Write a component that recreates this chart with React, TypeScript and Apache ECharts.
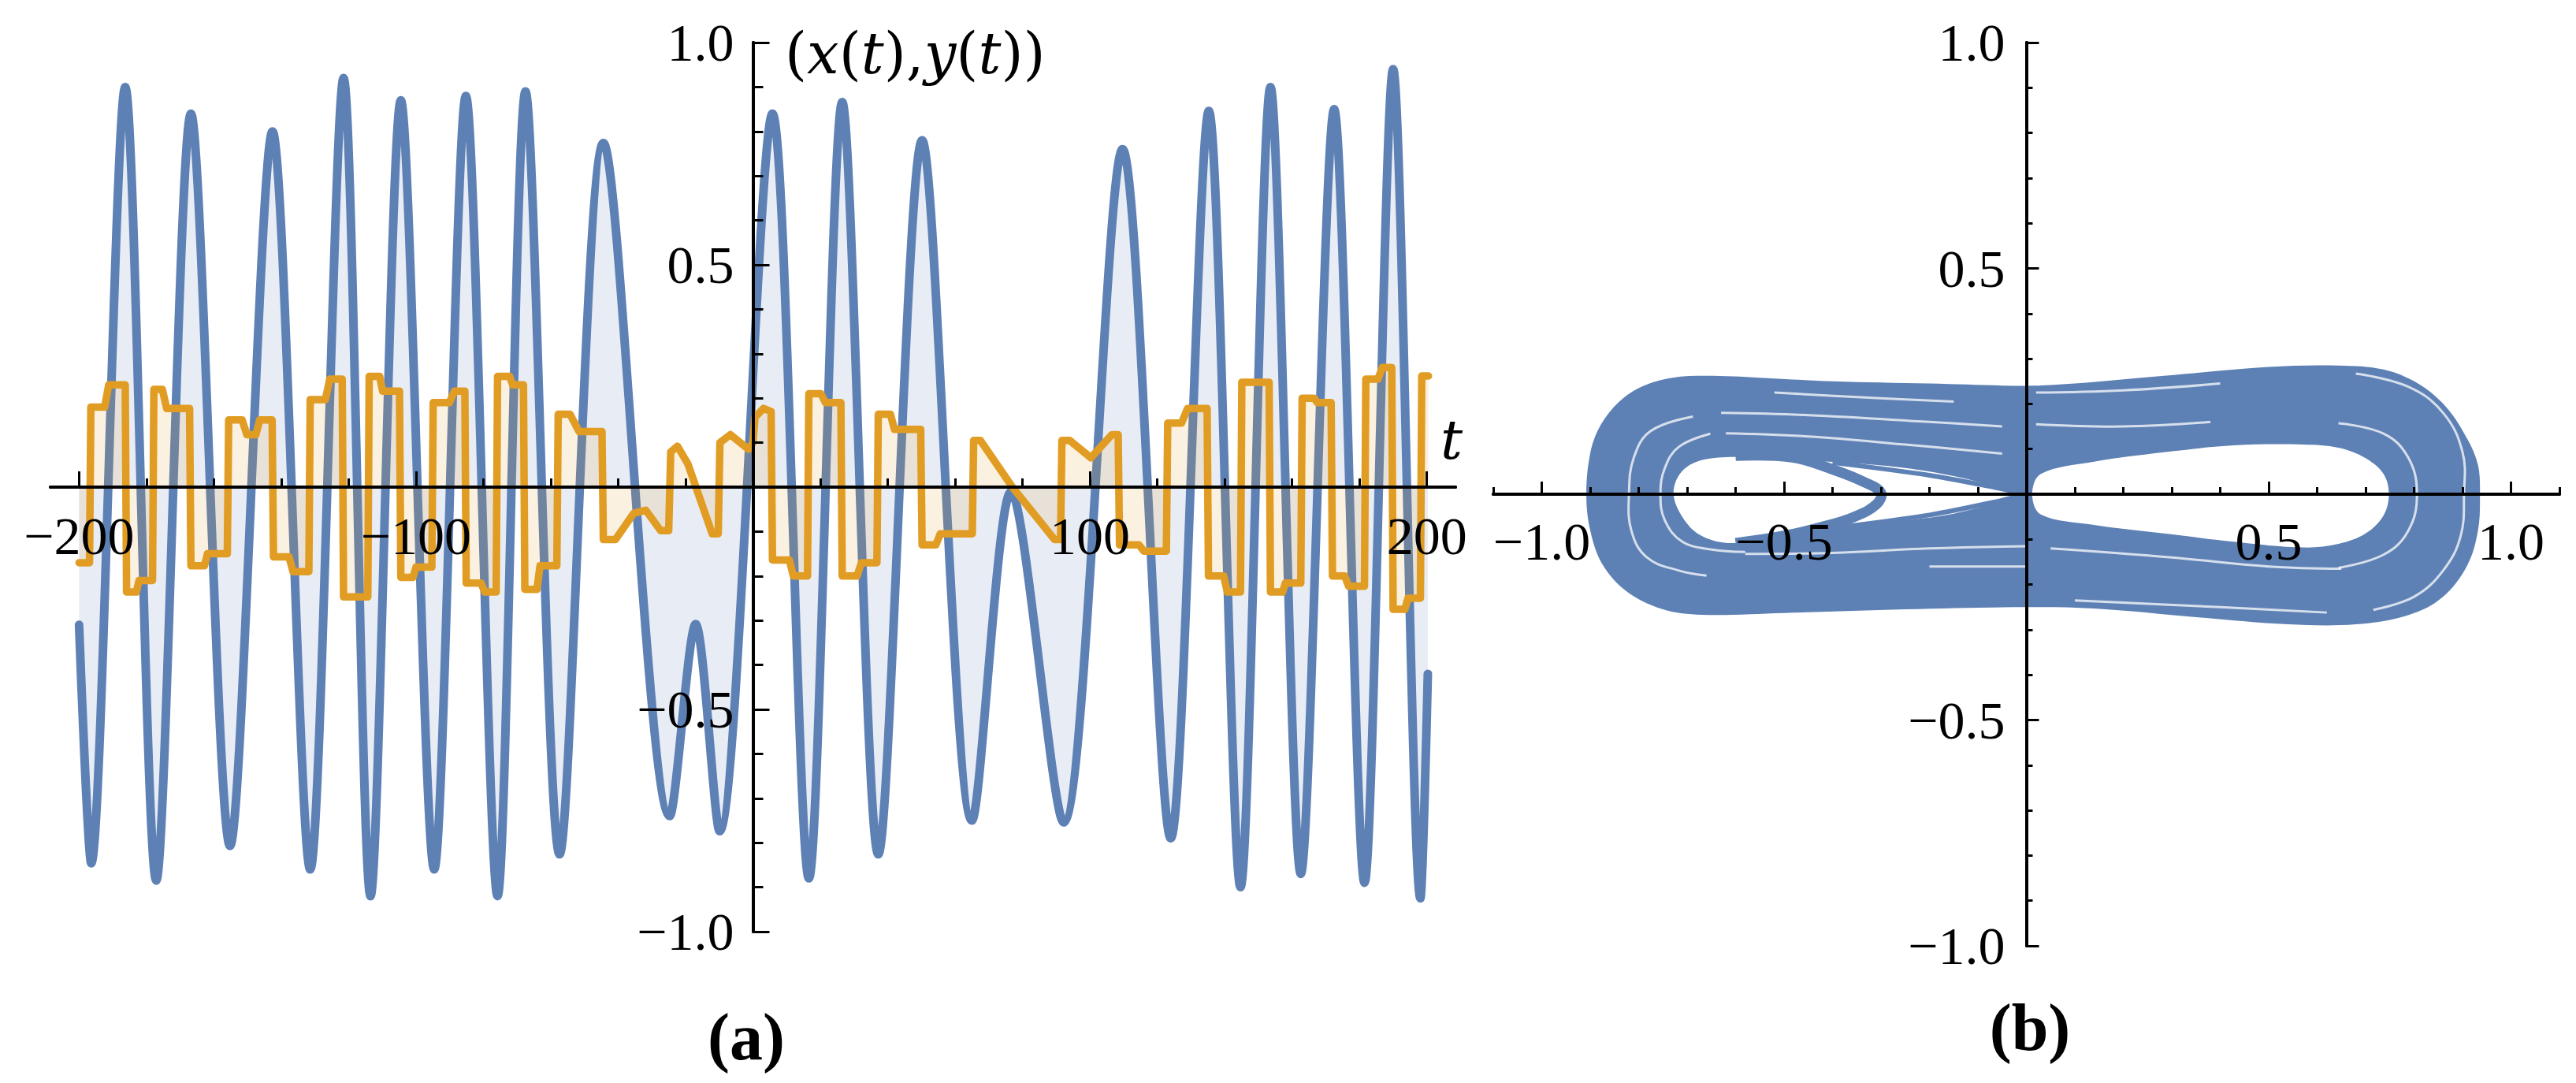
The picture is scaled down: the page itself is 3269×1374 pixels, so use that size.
import React, { useEffect, useRef } from 'react';
import * as echarts from 'echarts';

const BLUE = '#5E81B5';
const ORANGE = '#E19C24';

// ---------- panel (a): x(t) extrema ----------
const xCurve: [number, number][] = [
  [-200, -0.31], [-196.4, -0.846], [-186.3, 0.9], [-177.1, -0.885], [-166.8, 0.84],
  [-155.2, -0.807], [-142.6, 0.8], [-131.4, -0.86], [-121.5, 0.92], [-113.5, -0.92],
  [-104.5, 0.87], [-94.6, -0.86], [-85.2, 0.88], [-75.8, -0.92], [-67.5, 0.89],
  [-57.4, -0.826], [-44.4, 0.774], [-24.7, -0.74], [-17.0, -0.308], [-9.9, -0.774],
  [5.8, 0.84], [16.6, -0.88], [26.5, 0.866], [37.2, -0.826], [50.2, 0.78],
  [65.0, -0.75], [76.6, -0.01], [92.2, -0.754], [109.7, 0.76], [124.0, -0.79],
  [135.3, 0.846], [144.7, -0.9], [153.6, 0.9], [162.6, -0.87], [172.5, 0.85],
  [181.5, -0.89], [190.0, 0.94], [198.1, -0.925], [200.3, -0.42],
];

// ---------- panel (a): y(t) plateaus ----------
const yCurve: [number, number][] = [
  [-200, -0.17], [-196.9, -0.17],
  [-196.5, 0.18], [-192.4, 0.18], [-191.2, 0.23], [-186.3, 0.23],
  [-185.9, -0.236], [-183.0, -0.236], [-182.2, -0.21], [-178.2, -0.21],
  [-177.8, 0.22], [-175.3, 0.22], [-174.0, 0.177], [-167.2, 0.177],
  [-166.8, -0.177], [-162.8, -0.177], [-161.9, -0.15], [-156.0, -0.15],
  [-155.6, 0.151], [-151.6, 0.151], [-150.2, 0.118], [-147.5, 0.118], [-146.4, 0.151], [-142.7, 0.151],
  [-142.3, -0.157], [-137.7, -0.157], [-136.5, -0.19], [-131.8, -0.19],
  [-131.4, 0.197], [-126.9, 0.197], [-125.6, 0.243], [-121.9, 0.243],
  [-121.5, -0.247], [-114.3, -0.247],
  [-113.9, 0.249], [-110.8, 0.249], [-109.9, 0.216], [-104.9, 0.216],
  [-104.5, -0.203], [-100.9, -0.203], [-100.0, -0.18], [-95.3, -0.18],
  [-94.9, 0.19], [-90.1, 0.19], [-88.6, 0.216], [-85.5, 0.216],
  [-85.1, -0.216], [-80.7, -0.216], [-79.6, -0.236], [-76.2, -0.236],
  [-75.8, 0.249], [-72.2, 0.249], [-71.3, 0.23], [-68.1, 0.23],
  [-67.7, -0.23], [-64.1, -0.23], [-63.2, -0.177], [-58.2, -0.177],
  [-57.8, 0.164], [-54.3, 0.164], [-51.6, 0.125], [-44.8, 0.125],
  [-44.4, -0.118], [-40.8, -0.118], [-35.4, -0.059], [-31.8, -0.052], [-27.4, -0.098], [-25.0, -0.098],
  [-24.4, 0.079], [-22.4, 0.092], [-19.3, 0.052], [-12.1, -0.105], [-10.3, -0.105],
  [-9.8, 0.1], [-6.7, 0.118], [-1.3, 0.085], [0.0, 0.1], [0.6, 0.157], [3.1, 0.177], [5.4, 0.17],
  [5.8, -0.164], [10.8, -0.164], [12.0, -0.2], [16.2, -0.2],
  [16.6, 0.21], [20.2, 0.21], [21.5, 0.19], [26.1, 0.19],
  [26.5, -0.2], [30.9, -0.2], [32.2, -0.17], [36.8, -0.17],
  [37.2, 0.164], [40.8, 0.164], [42.0, 0.13], [49.8, 0.13],
  [50.2, -0.13], [54.3, -0.13], [55.6, -0.105], [65.1, -0.105],
  [65.5, 0.105], [67.5, 0.105], [77.0, 0.0], [89.5, -0.118], [91.3, -0.118],
  [91.7, 0.105], [94.0, 0.105], [100.3, 0.066], [106.5, 0.118], [108.4, 0.118],
  [108.8, -0.13], [114.6, -0.13], [116.0, -0.144], [122.7, -0.144],
  [123.1, 0.144], [127.2, 0.144], [129.0, 0.177], [134.8, 0.177],
  [135.2, -0.2], [139.7, -0.2], [140.8, -0.236], [144.7, -0.236],
  [145.1, 0.236], [153.2, 0.236],
  [153.6, -0.236], [157.2, -0.236], [158.0, -0.216], [162.6, -0.216],
  [163.0, 0.2], [166.6, 0.2], [167.5, 0.19], [171.6, 0.19],
  [172.0, -0.2], [175.6, -0.2], [176.8, -0.223], [181.5, -0.223],
  [181.9, 0.243], [185.5, 0.243], [186.8, 0.269], [189.6, 0.269],
  [190.0, -0.275], [193.5, -0.275], [194.4, -0.25], [198.1, -0.25],
  [198.5, 0.25], [200.5, 0.25],
];

// ---------- panel (b): phase portrait outline ----------
const bandOuter: [number, number][] = [
  [0, 0.24], [-0.2, 0.245], [-0.4, 0.25], [-0.55, 0.258], [-0.66, 0.262], [-0.73, 0.258],
  [-0.79, 0.24], [-0.84, 0.205], [-0.88, 0.15], [-0.9, 0.09], [-0.908, 0], [-0.9, -0.08],
  [-0.875, -0.155], [-0.825, -0.215], [-0.75, -0.255], [-0.67, -0.267], [-0.5, -0.263],
  [-0.25, -0.255], [0, -0.25], [0.14, -0.253], [0.36, -0.273], [0.54, -0.288], [0.68, -0.288],
  [0.79, -0.267], [0.86, -0.227], [0.91, -0.157], [0.932, -0.08], [0.936, 0], [0.932, 0.064],
  [0.91, 0.122], [0.867, 0.192], [0.81, 0.244], [0.737, 0.276], [0.644, 0.285], [0.5, 0.282],
  [0.284, 0.262], [0.1, 0.245],
];
const holeLeft: [number, number][] = [
  [-0.728, 0], [-0.715, 0.045], [-0.68, 0.072], [-0.62, 0.082], [-0.54, 0.08], [-0.45, 0.074],
  [-0.35, 0.068], [-0.25, 0.058], [-0.15, 0.04], [-0.06, 0.016], [-0.012, 0],
  [-0.06, -0.018], [-0.15, -0.043], [-0.25, -0.058], [-0.35, -0.068], [-0.45, -0.08],
  [-0.54, -0.098], [-0.616, -0.108], [-0.674, -0.09], [-0.71, -0.05],
];
const holeRight: [number, number][] = [
  [0.012, 0], [0.03, 0.045], [0.14, 0.072], [0.284, 0.093], [0.428, 0.108], [0.572, 0.11],
  [0.644, 0.103], [0.7, 0.08], [0.737, 0.045], [0.748, 0], [0.737, -0.047], [0.7, -0.087],
  [0.644, -0.11], [0.572, -0.118], [0.428, -0.105], [0.284, -0.087], [0.14, -0.068], [0.03, -0.045],
];
const hookStrand: [number, number][] = [
  [-0.6, 0.085], [-0.486, 0.082], [-0.4, 0.055], [-0.333, 0.026], [-0.3, 0.003],
  [-0.31, -0.023], [-0.355, -0.05], [-0.413, -0.07], [-0.5, -0.092], [-0.6, -0.108],
];
const upperNeck: [number, number][] = [[-0.4, 0.07], [-0.2, 0.042], [-0.06, 0.014], [0, 0]];
const lowerNeck: [number, number][] = [[-0.4, -0.075], [-0.2, -0.046], [-0.06, -0.016], [0, 0]];
const gapLines: [number, number][][] = [
  [[-0.688, 0.172], [-0.775, 0.14], [-0.81, 0.081], [-0.82, 0], [-0.815, -0.081], [-0.783, -0.14], [-0.717, -0.169], [-0.66, -0.18]],
  [[-0.652, 0.134], [-0.717, 0.105], [-0.746, 0.058], [-0.755, 0], [-0.746, -0.058], [-0.71, -0.105], [-0.652, -0.122], [-0.58, -0.128]],
  [[-0.63, 0.18], [-0.45, 0.175], [-0.2, 0.16], [-0.05, 0.15]],
  [[-0.52, 0.225], [-0.35, 0.215], [-0.15, 0.205]],
  [[-0.62, 0.135], [-0.45, 0.128], [-0.25, 0.11], [-0.05, 0.09]],
  [[-0.58, -0.132], [-0.4, -0.13], [-0.2, -0.12], [0, -0.115]],
  [[-0.2, -0.16], [0, -0.16]],
  [[0.68, 0.267], [0.788, 0.238], [0.86, 0.18], [0.9, 0.093], [0.903, 0], [0.896, -0.093], [0.86, -0.169], [0.8, -0.227], [0.716, -0.256]],
  [[0.644, 0.157], [0.737, 0.134], [0.788, 0.081], [0.806, 0], [0.788, -0.081], [0.737, -0.134], [0.644, -0.163]],
  [[0.02, 0.225], [0.2, 0.23], [0.4, 0.245]],
  [[0.02, 0.155], [0.2, 0.15], [0.38, 0.16]],
  [[0.05, -0.12], [0.3, -0.14], [0.5, -0.16], [0.65, -0.165]],
  [[0.1, -0.235], [0.4, -0.25], [0.62, -0.262]],
];

// ---------- ticks ----------
const tMajor = [-200, -100, 100, 200];
const tMinor = [-180, -160, -140, -120, -80, -60, -40, -20, 20, 40, 60, 80, 120, 140, 160, 180];
const vMajor = [-1, -0.5, 0.5, 1];
const vMinor = [-0.9, -0.8, -0.7, -0.6, -0.4, -0.3, -0.2, -0.1, 0.1, 0.2, 0.3, 0.4, 0.6, 0.7, 0.8, 0.9];
const pMinorX = [-1.1, -0.9, -0.8, -0.7, -0.6, -0.4, -0.3, -0.2, -0.1, 0.1, 0.2, 0.3, 0.4, 0.6, 0.7, 0.8, 0.9, 1.1];

const fmt = (v: number, d: number) => (v < 0 ? '\u2212' : '') + Math.abs(v).toFixed(d);

// grid geometry
const G0 = { left: 64, top: 54, width: 1783, height: 1128 };
const G1 = { left: 1895, top: 54, width: 1353, height: 1146 };

function makeAxis(
  gridIndex: number, min: number, max: number, position: string, offset: number,
  ticks: number[], tickLen: number, labels: number[] | null, digits: number, margin: number,
) {
  return {
    type: 'value', gridIndex, min, max, position, offset, z: 5,
    axisLine: { show: true, onZero: false, lineStyle: { color: '#000', width: 4 } },
    axisTick: { show: true, inside: true, length: tickLen, customValues: ticks, lineStyle: { color: '#000', width: 3 } },
    axisLabel: labels
      ? {
          show: true, customValues: labels, margin,
          formatter: (v: number) => fmt(v, digits),
          fontFamily: 'Liberation Serif', fontSize: 68, color: '#000',
        }
      : { show: false },
    splitLine: { show: false },
  };
}

function shapeSeries(points: [number, number][], kind: 'polygon' | 'polyline', style: any, z: number, smooth: number) {
  return {
    type: 'custom', xAxisIndex: 2, yAxisIndex: 2, data: points, z, silent: true, clip: false,
    renderItem: (params: any, api: any) => {
      if (params.dataIndex !== 0) return null;
      return {
        type: kind,
        shape: { points: points.map((p) => api.coord(p)), smooth },
        style,
      };
    },
  };
}

export default function App() {
  const ref = useRef<HTMLDivElement>(null);
  useEffect(() => {
    const chart = echarts.init(ref.current!, null, { renderer: 'svg' });
    const serif = 'DejaVu Serif';
    const x0off = -G0.height / 2;
    const y0off = -(G0.width * 208.5) / 417;
    const x1off = -G1.height / 2;
    const y1off = -G1.width / 2;
    const option: any = {
      animation: false,
      backgroundColor: '#fff',
      grid: [
        { ...G0, containLabel: false, outerBoundsMode: 'none' },
        { ...G1, containLabel: false, outerBoundsMode: 'none' },
      ],
      xAxis: [
        makeAxis(0, -208.5, 208.5, 'bottom', x0off, tMajor, 20, tMajor, 0, 28),
        makeAxis(0, -208.5, 208.5, 'bottom', x0off, tMinor, 11, null, 0, 0),
        makeAxis(1, -1.1, 1.1, 'bottom', x1off, vMajor, 16, vMajor, 1, 26),
        makeAxis(1, -1.1, 1.1, 'bottom', x1off, pMinorX, 9, null, 1, 0),
      ],
      yAxis: [
        makeAxis(0, -1, 1, 'left', y0off, vMajor, 21, vMajor, 1, 24),
        makeAxis(0, -1, 1, 'left', y0off, vMinor, 13, null, 1, 0),
        makeAxis(1, -1, 1, 'left', y1off, vMajor, 16, vMajor, 1, 27),
        makeAxis(1, -1, 1, 'left', y1off, vMinor, 8, null, 1, 0),
      ],
      series: [
        {
          type: 'line', xAxisIndex: 0, yAxisIndex: 0, data: xCurve, smooth: 0.3,
          showSymbol: false, z: 2,
          lineStyle: { color: BLUE, width: 11, join: 'round', cap: 'round' },
          areaStyle: { color: 'rgba(94,129,181,0.2)', origin: 'auto' },
        },
        {
          type: 'line', xAxisIndex: 0, yAxisIndex: 0, data: yCurve, smooth: false,
          showSymbol: false, z: 3,
          lineStyle: { color: ORANGE, width: 9.5, join: 'round', cap: 'round' },
          areaStyle: { color: 'rgba(225,156,36,0.2)', origin: 'auto' },
        },
        shapeSeries(bandOuter, 'polygon', { fill: BLUE }, 1, 0.35),
        shapeSeries(holeLeft, 'polygon', { fill: '#fff' }, 2, 0.35),
        shapeSeries(holeRight, 'polygon', { fill: '#fff' }, 2, 0.35),
        shapeSeries(hookStrand, 'polyline', { stroke: BLUE, lineWidth: 13, fill: null, lineJoin: 'round' }, 3, 0.4),
        shapeSeries(upperNeck, 'polyline', { stroke: BLUE, lineWidth: 6, fill: null }, 3, 0.3),
        shapeSeries(lowerNeck, 'polyline', { stroke: BLUE, lineWidth: 6, fill: null }, 3, 0.3),
        ...gapLines.map((g) =>
          shapeSeries(g, 'polyline', { stroke: '#fff', lineWidth: 3, opacity: 0.75, fill: null }, 3, 0.4)),
      ],
      graphic: [
        {
          type: 'text', x: 996, y: 68, z: 10,
          style: {
            text: '{n|(}{i|x}{n|(}{i|t}{n|),}{i|y}{n|(}{i|t}{n|))}',
            fontFamily: serif, fontSize: 72, fill: '#000', verticalAlign: 'middle', align: 'left',
            rich: {
              n: { fontFamily: serif, fontSize: 72, fill: '#000' },
              i: { fontFamily: serif, fontSize: 72, fontStyle: 'italic', fill: '#000' },
            },
          },
        },
        {
          type: 'text', x: 1828, y: 558, z: 10,
          style: { text: 't', fontFamily: serif, fontSize: 70, fontStyle: 'italic', fill: '#000', verticalAlign: 'middle' },
        },
        {
          type: 'text', x: 947, y: 1315, z: 10,
          style: { text: '(a)', fontFamily: 'Liberation Serif', fontSize: 84, fontWeight: 'bold', fill: '#000', align: 'center', verticalAlign: 'middle' },
        },
        {
          type: 'text', x: 2576, y: 1303, z: 10,
          style: { text: '(b)', fontFamily: 'Liberation Serif', fontSize: 84, fontWeight: 'bold', fill: '#000', align: 'center', verticalAlign: 'middle' },
        },
      ],
    };
    chart.setOption(option);
    return () => chart.dispose();
  }, []);
  return (
    <div
      ref={ref}
      style={{ position: 'fixed', left: 0, top: 0, width: 3269, height: 1374, background: '#fff' }}
    />
  );
}
